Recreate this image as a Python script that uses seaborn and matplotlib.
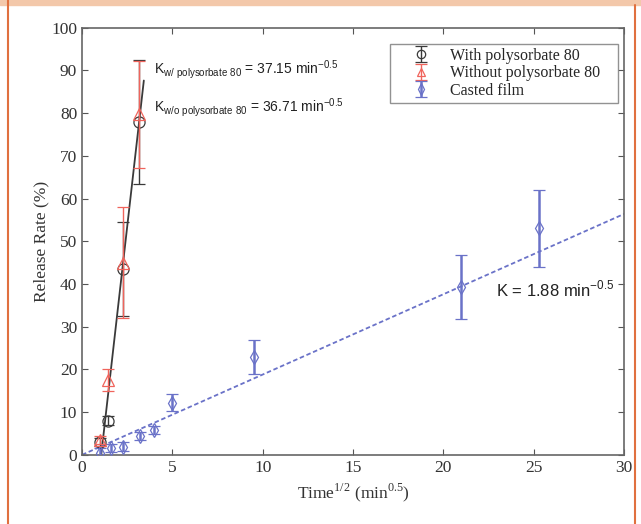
import numpy as np
import pandas as pd
import matplotlib
matplotlib.use("Agg")
import matplotlib.pyplot as plt
import seaborn as sns
from matplotlib.lines import Line2D
from matplotlib.patches import Rectangle

# --- datos ---
x_poly = [1.0, 1.41, 2.24, 3.16]
y_con = [3.0, 8.0, 43.5, 78.0]
err_con = [1.0, 1.0, 11.0, 14.5]
y_sin = [3.5, 17.5, 45.0, 79.7]
err_sin = [1.0, 2.5, 13.0, 12.6]

x_film = [1.0, 1.6, 2.25, 3.2, 4.0, 5.0, 9.5, 21.0, 25.3]
y_film = [0.5, 1.6, 1.9, 4.4, 5.8, 12.2, 23.0, 39.3, 53.0]
err_film = [1.0, 1.0, 1.0, 1.0, 1.0, 2.0, 4.0, 7.6, 9.0]

k_con, k_sin, k_film = 37.15, 36.71, 1.88

sns.set_theme(style="white")
plt.rcParams["font.family"] = ["Liberation Serif", "DejaVu Serif"]

c_negro = "#3a3a3a"
c_rojo = "#f0645c"
c_azul = "#6a72c8"

fig = plt.figure(figsize=(6.41, 5.24), dpi=100)
ax = fig.add_axes([0.128, 0.132, 0.8455, 0.815])

# recta de ajuste (pendiente K, ordenada por medias)
def recta(xs, ys, k, x0, x1):
    b = np.mean(ys) - k * np.mean(xs)
    xx = np.array([x0, x1])
    return pd.DataFrame({"x": xx, "y": k * xx + b})

sns.lineplot(data=recta(x_poly, y_con, k_con, 1.05, 3.42), x="x", y="y",
             color=c_negro, lw=1.3, ax=ax, legend=False)
film_fit = pd.DataFrame({"x": [0, 30], "y": [0, k_film * 30]})
sns.lineplot(data=film_fit, x="x", y="y", color=c_azul, lw=1.3,
             linestyle=(0, (2.5, 1.5)), ax=ax, legend=False)

ax.errorbar(x_poly, y_con, yerr=err_con, fmt="o", mfc="none", mec=c_negro,
            ecolor=c_negro, ms=8, mew=0.9, elinewidth=1.0, capsize=4,
            label="With polysorbate 80", zorder=4)
ax.errorbar(x_poly, y_sin, yerr=err_sin, fmt="^", mfc="none", mec=c_rojo,
            ecolor=c_rojo, ms=8, mew=0.9, elinewidth=1.0, capsize=4,
            label="Without polysorbate 80", zorder=5)
ax.errorbar(x_film, y_film, yerr=err_film, fmt="d", mfc="none", mec=c_azul,
            ecolor=c_azul, ms=7.5, mew=0.9, elinewidth=1.8, capsize=4,
            label="Casted film", zorder=4)

ax.set_xlim(0, 30)
ax.set_ylim(0, 100)
ax.set_xticks(range(0, 31, 5))
ax.set_yticks(range(0, 101, 10))
ax.tick_params(direction="in", length=4, width=0.8, colors="#555555",
               labelcolor="#333333", labelsize=12.5, top=True, right=True,
               bottom=True, left=True)
for s in ax.spines.values():
    s.set_color("#666666")
    s.set_linewidth(1.2)

ax.set_xlabel("Time$^{\\mathregular{1/2}}$ (min$^{\\mathregular{0.5}}$)",
              fontsize=12.5, color="#333333", labelpad=4)
ax.set_ylabel("Release Rate (%)", fontsize=12.5, color="#333333", labelpad=1)

sans = ["Liberation Sans", "DejaVu Sans"]
ax.text(4.0, 90.3, "K$_{\\mathregular{w/\\ polysorbate\\ 80}}$ = 37.15 min$^{\\mathregular{-0.5}}$",
        family=sans, fontsize=10, color="#222222", va="center")
ax.text(4.0, 81.3, "K$_{\\mathregular{w/o\\ polysorbate\\ 80}}$ = 36.71 min$^{\\mathregular{-0.5}}$",
        family=sans, fontsize=10, color="#222222", va="center")
ax.text(22.9, 38.8, "K = 1.88 min$^{\\mathregular{-0.5}}$",
        family=sans, fontsize=12, color="#222222", va="center")

leg = ax.legend(loc="upper left", bbox_to_anchor=(0.568, 0.9625, 0.4207, 0.0),
                mode="expand", fontsize=11.5, markerscale=0.75,
                frameon=True, fancybox=False, edgecolor="#777777",
                handlelength=3.4, handletextpad=0.1, borderpad=0.25,
                labelspacing=0.1, borderaxespad=0)
leg.get_frame().set_linewidth(1.0)

# marco naranja de la imagen
fig.add_artist(Rectangle((0, 0.99), 1, 0.01, transform=fig.transFigure,
                         color="#f3c8aa", zorder=0))
fig.add_artist(Line2D([0.013, 0.013], [0, 1], transform=fig.transFigure,
                      color="#e0703f", lw=1.5))
fig.add_artist(Line2D([0.991, 0.991], [0, 0.99], transform=fig.transFigure,
                      color="#e0703f", lw=1.5))

fig.savefig("out.png", dpi=100)
